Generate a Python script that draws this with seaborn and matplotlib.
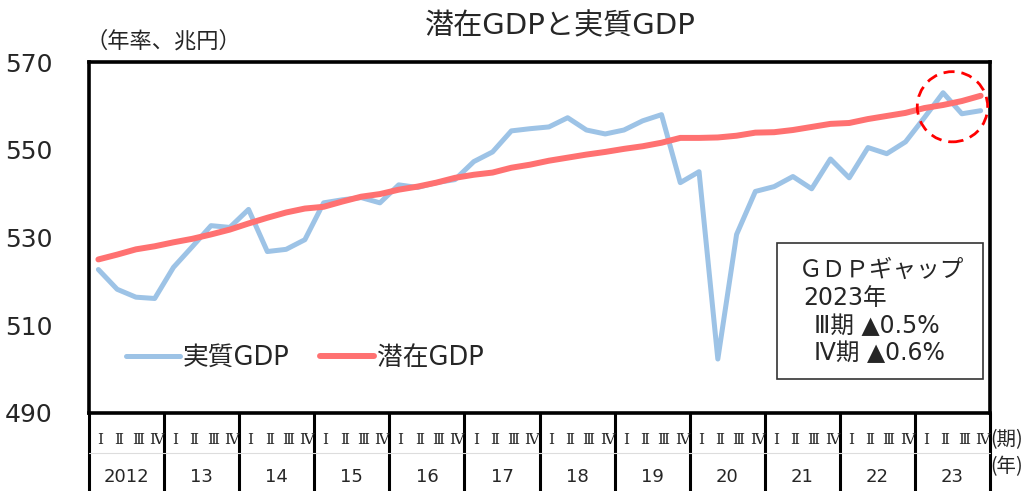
import matplotlib
matplotlib.use("Agg")
import matplotlib.pyplot as plt
import matplotlib.transforms as mtransforms
from matplotlib.patches import Ellipse, Rectangle
import seaborn as sns
import pandas as pd
import numpy as np

sns.set_theme(style="white")
plt.rcParams['font.family'] = ['DejaVu Sans', 'Noto Sans CJK JP']

years = ["2012", "13", "14", "15", "16", "17", "18", "19", "20", "21", "22", "23"]
quarters = ["Ⅰ", "Ⅱ", "Ⅲ", "Ⅳ"]
y_ticks = [490, 510, 530, 550, 570]

real_gdp = [522.7, 518.2, 516.4, 516.1, 523.2, 527.9, 532.7, 532.3,
            536.4, 526.8, 527.3, 529.5, 537.9, 538.6, 539.1, 537.9,
            542.0, 541.4, 542.5, 543.2, 547.3, 549.5, 554.3, 554.8,
            555.2, 557.3, 554.5, 553.6, 554.5, 556.6, 558.0, 542.5,
            545.0, 502.3, 530.7, 540.5, 541.6, 543.9, 541.1, 547.9,
            543.6, 550.5, 549.1, 551.8, 557.3, 563.0, 558.2, 558.9]
potential_gdp = [525.0, 526.1, 527.3, 528.0, 528.9, 529.7, 530.7, 531.8,
                 533.2, 534.5, 535.7, 536.6, 537.0, 538.2, 539.3, 539.9,
                 540.9, 541.6, 542.5, 543.6, 544.3, 544.8, 545.9, 546.6,
                 547.5, 548.2, 548.9, 549.5, 550.2, 550.8, 551.6, 552.7,
                 552.7, 552.8, 553.2, 553.9, 554.0, 554.5, 555.2, 555.9,
                 556.1, 557.0, 557.7, 558.4, 559.5, 560.2, 561.1, 562.3]

n = len(real_gdp)
df = pd.DataFrame({"q": np.arange(n), "real": real_gdp, "pot": potential_gdp})

fig = plt.figure(figsize=(10.29, 4.91), dpi=100)
ax = fig.add_axes([89/1029, 1-413/491, (990-89)/1029, (413-62)/491])

sns.lineplot(data=df, x="q", y="real", ax=ax, color="#9DC3E6", linewidth=3.6,
             label="実質GDP")
sns.lineplot(data=df, x="q", y="pot", ax=ax, color="#FF7171", linewidth=4.3,
             label="潜在GDP")

ax.set_xlim(-0.5, n - 0.5)
ax.set_ylim(490, 570)
ax.set_yticks(y_ticks)
ax.set_yticklabels([str(v) for v in y_ticks], fontsize=18)
ax.set_xticks([])
ax.set_xlabel("")
ax.set_ylabel("")
ax.tick_params(axis="y", length=0, pad=26)
for s in ax.spines.values():
    s.set_color("black")
    s.set_linewidth(2.6)

leg = ax.legend(loc="center left", bbox_to_anchor=(0.027, 0.157), ncol=2,
                frameon=False, fontsize=18.5, handlelength=2.1,
                handletextpad=0.1, columnspacing=1.2, borderpad=0)
for h in leg.legend_handles:
    h.set_solid_capstyle("round")

# dashed circle highlight
ax.add_patch(Ellipse((45.5, 559.8), width=3.75, height=16.0, fill=False,
                     edgecolor="#FF0000", linestyle=(0, (4, 2.5)), linewidth=2.0,
                     clip_on=False, zorder=5))

# info box
ax.add_patch(Rectangle((0.7636, 0.0969), 0.992 - 0.7636, 0.4843 - 0.0969,
                       transform=ax.transAxes, fill=True, facecolor="white",
                       edgecolor="#333333", linewidth=1.2, zorder=6))
box_lines = [("ＧＤＰギャップ", 799, 270), ("2023年", 803, 298),
             ("Ⅲ期 ▲0.5%", 814, 326), ("Ⅳ期 ▲0.6%", 814, 353)]
for txt, px, py in box_lines:
    ax.text((px - 89) / 901, (413 - py) / 351, txt, transform=ax.transAxes,
            fontsize=17, ha="left", va="center", zorder=7,
            family=["DejaVu Sans", "Noto Sans CJK JP"])

# category table below axis
trans = mtransforms.blended_transform_factory(ax.transData, ax.transAxes)
for i, y in enumerate(years):
    x0 = i * 4 - 0.5
    ax.plot([x0, x0], [0, -0.3], transform=trans, color="black",
            linewidth=2.2, clip_on=False)
    ax.text(x0 + 2, -0.182, y, transform=trans, ha="center", va="center",
            fontsize=13)
    for j, q in enumerate(quarters):
        ax.text(i * 4 + j + 0.1, -0.077, q, transform=trans, ha="center",
                va="center", fontsize=11, family=["DejaVu Serif", "Noto Sans CJK JP"])
ax.plot([n - 0.5, n - 0.5], [0, -0.3], transform=trans, color="black",
        linewidth=2.2, clip_on=False)
ax.plot([-0.5, n - 0.5], [-0.114, -0.114], transform=trans, color="#DDDDDD",
        linewidth=0.8, clip_on=False)

fig.text(0.962, 1 - 440/491, "(期)", fontsize=14, ha="left", va="center",
         family=["Noto Sans CJK JP"])
fig.text(0.962, 1 - 467/491, "(年)", fontsize=14, ha="left", va="center",
         family=["Noto Sans CJK JP"])

fig.text(0.545, 1 - 26/491, "潜在GDPと実質GDP", fontsize=21, ha="center",
         va="center")
fig.text(0.083, 1 - 41/491, "（年率、兆円）", fontsize=16, ha="left",
         va="center", family=["Noto Sans CJK JP"])

fig.savefig("out.png", dpi=100)
